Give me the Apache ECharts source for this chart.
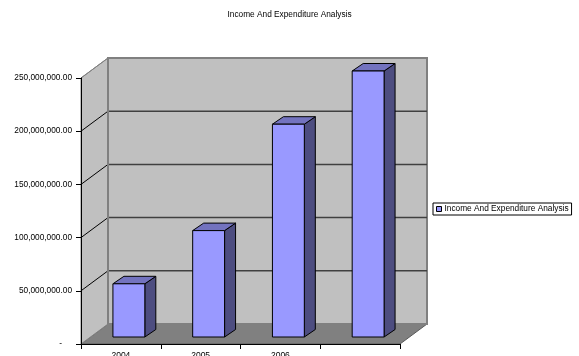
<!DOCTYPE html>
<html>
<head>
<meta charset="utf-8">
<script src="https://cdn.jsdelivr.net/npm/echarts@6/dist/echarts.min.js"></script>
<style>
html,body{margin:0;padding:0;background:#fff;}
#main{width:579px;height:356px;}
</style>
</head>
<body>
<div id="main"></div>
<script>
// ---- data ----
var TITLE = 'Income And Expenditure Analysis';
var SERIES_NAME = 'Income And Expenditure Analysis';
var CATEGORIES = ['2004', '2005', '2006', ''];
var VALUES = [50000000, 100000000, 200000000, 250000000];
var Y_TICKS = [0, 50000000, 100000000, 150000000, 200000000, 250000000];

// ---- style constants ----
var FONT = 'Liberation Sans, Arial, sans-serif';
var FS = 8.3;
var WALL_DX = 27, WALL_DY = -20;     // depth of the 3D box
var BAR_FX = 8, BAR_FY = -7;         // bar front plane offset
var BAR_DX = 11, BAR_DY = -7.5;      // bar depth
var BAR_RATIO = 0.4;

function fmtY(v) {
  if (v === 0) return '{d|-}';
  return v.toLocaleString('en-US', {minimumFractionDigits: 2, maximumFractionDigits: 2});
}

var chart = echarts.init(document.getElementById('main'), null, {renderer: 'canvas'});

var barData = VALUES.map(function (v, i) { return [i, v]; });

var option = {
  backgroundColor: '#ffffff',
  animation: false,
  title: {
    text: TITLE,
    left: 'center',
    top: 11,
    padding: 0,
    textStyle: {fontFamily: FONT, fontSize: FS, fontWeight: 'normal', color: '#000'}
  },
  legend: {
    left: 433,
    top: 203,
    orient: 'vertical',
    padding: [2, 3, 2, 3],
    borderColor: '#000',
    borderWidth: 1,
    itemWidth: 5,
    itemHeight: 5,
    textStyle: {fontFamily: FONT, fontSize: FS, color: '#000', padding: [0, 0, 0, -2]},
    data: [{
      name: SERIES_NAME,
      icon: 'rect',
      itemStyle: {color: '#9999ff', borderColor: '#000', borderWidth: 1}
    }]
  },
  grid: {left: 81, top: 78, width: 319, height: 266, containLabel: false, outerBoundsMode: 'none'},
  xAxis: {
    type: 'category',
    data: CATEGORIES,
    z: 10,
    axisLine: {show: true, lineStyle: {color: '#000', width: 1}},
    axisTick: {show: true, length: 5, lineStyle: {color: '#000'}},
    axisLabel: {fontFamily: FONT, fontSize: 8.5, color: '#000', margin: 7, interval: 0},
    splitLine: {show: false}
  },
  yAxis: {
    type: 'value',
    min: 0,
    max: 250000000,
    interval: 50000000,
    z: 10,
    axisLine: {show: true, lineStyle: {color: '#000', width: 1}},
    axisTick: {show: true, length: 5, lineStyle: {color: '#000'}},
    axisLabel: {
      fontFamily: FONT, fontSize: FS, color: '#000', margin: 9,
      formatter: fmtY,
      rich: {d: {fontFamily: FONT, fontSize: FS, color: '#000', padding: [0, 10, 0, 0]}}
    },
    splitLine: {show: false}
  },
  series: [
    {
      name: 'walls',
      type: 'custom',
      silent: true,
      z: 1,
      data: [[0, 0]],
      encode: {x: 0, y: 1},
      renderItem: function (params, api) {
        var cs = params.coordSys;
        var cx = cs.x, cy = cs.y, cw = cs.width, ch = cs.height;
        var children = [];
        // floor
        children.push({
          type: 'polygon',
          shape: {points: [[cx, cy + ch], [cx + cw, cy + ch], [cx + cw + WALL_DX, cy + ch + WALL_DY], [cx + WALL_DX, cy + ch + WALL_DY]]},
          style: {fill: '#808080', stroke: '#5a5a5a', lineWidth: 1}
        });
        // left wall
        children.push({
          type: 'polygon',
          shape: {points: [[cx, cy], [cx + WALL_DX, cy + WALL_DY], [cx + WALL_DX, cy + ch + WALL_DY], [cx, cy + ch]]},
          style: {fill: '#c0c0c0', stroke: '#808080', lineWidth: 1}
        });
        // back wall
        children.push({
          type: 'rect',
          shape: {x: cx + WALL_DX, y: cy + WALL_DY, width: cw, height: ch},
          style: {fill: '#c0c0c0', stroke: '#808080', lineWidth: 2}
        });
        // gridlines
        for (var i = 0; i < Y_TICKS.length; i++) {
          var t = Y_TICKS[i];
          if (t === 0 || t === 250000000) continue;
          var y = api.coord([0, t])[1];
          children.push({
            type: 'line',
            shape: {x1: cx + WALL_DX, y1: y + WALL_DY, x2: cx + WALL_DX + cw, y2: y + WALL_DY},
            style: {stroke: '#404040', lineWidth: 1.5}
          });
          children.push({
            type: 'line',
            shape: {x1: cx, y1: y, x2: cx + WALL_DX, y2: y + WALL_DY},
            style: {stroke: '#000', lineWidth: 1}
          });
        }
        // back-left vertical edge
        children.push({
          type: 'line',
          shape: {x1: cx + WALL_DX, y1: cy + WALL_DY, x2: cx + WALL_DX, y2: cy + ch + WALL_DY},
          style: {stroke: '#808080', lineWidth: 2}
        });
        // top edge of left wall
        children.push({
          type: 'line',
          shape: {x1: cx, y1: cy, x2: cx + WALL_DX, y2: cy + WALL_DY},
          style: {stroke: '#808080', lineWidth: 1}
        });
        return {type: 'group', children: children};
      }
    },
    {
      name: SERIES_NAME,
      type: 'custom',
      z: 3,
      itemStyle: {color: '#9999ff', borderColor: '#000', borderWidth: 1},
      data: barData,
      encode: {x: 0, y: 1},
      renderItem: function (params, api) {
        var idx = api.value(0), val = api.value(1);
        var top = api.coord([idx, val]);
        var base = api.coord([idx, 0]);
        var bw = api.size([1, 0])[0] * BAR_RATIO;
        var x0 = top[0] - bw / 2 + BAR_FX, x1 = x0 + bw;
        var yt = top[1] + BAR_FY, yb = base[1] + BAR_FY;
        return {
          type: 'group',
          children: [
            {
              type: 'polygon',
              shape: {points: [[x1, yt], [x1 + BAR_DX, yt + BAR_DY], [x1 + BAR_DX, yb + BAR_DY], [x1, yb]]},
              style: {fill: '#4d4d80', stroke: '#000', lineWidth: 1}
            },
            {
              type: 'polygon',
              shape: {points: [[x0, yt], [x0 + BAR_DX, yt + BAR_DY], [x1 + BAR_DX, yt + BAR_DY], [x1, yt]]},
              style: {fill: '#7373bf', stroke: '#000', lineWidth: 1}
            },
            {
              type: 'rect',
              shape: {x: x0, y: yt, width: bw, height: yb - yt},
              style: {fill: '#9999ff', stroke: '#000', lineWidth: 1}
            }
          ]
        };
      }
    }
  ]
};

chart.setOption(option);
</script>
</body>
</html>
